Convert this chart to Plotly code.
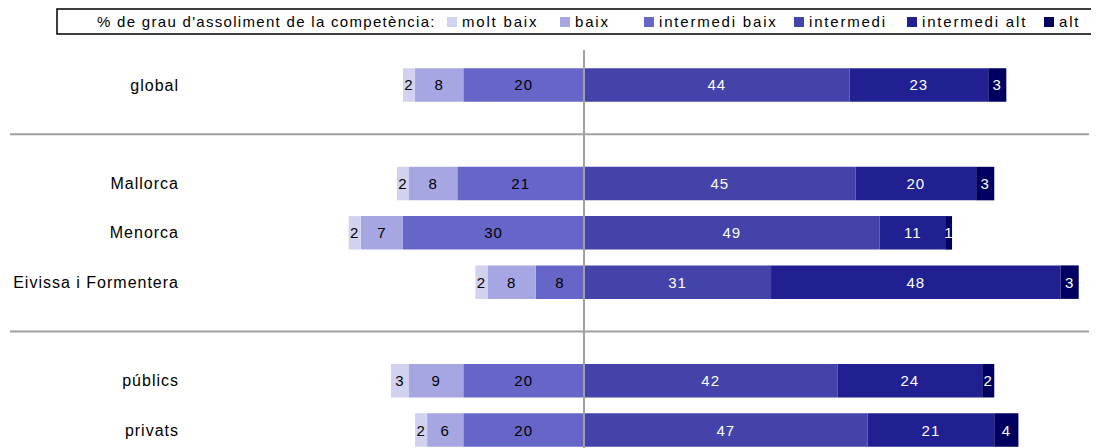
import plotly.graph_objects as go

categories = ["global", "Mallorca", "Menorca", "Eivissa i Formentera", "públics", "privats"]
positions = [0, 2, 3, 4, 6, 7]

levels = ["molt baix", "baix", "intermedi baix", "intermedi", "intermedi alt", "alt"]
molt_baix = [2, 2, 2, 2, 3, 2]
baix = [8, 8, 7, 8, 9, 6]
intermedi_baix = [20, 21, 30, 8, 20, 20]
intermedi = [44, 45, 49, 31, 42, 47]
intermedi_alt = [23, 20, 11, 48, 24, 21]
alt = [3, 3, 1, 3, 2, 4]

legend_title = "% de grau d'assoliment de la competència:"

colors = {
    "molt baix": "#D2D2F0",
    "baix": "#A6A6E2",
    "intermedi baix": "#6666C8",
    "intermedi": "#4343AA",
    "intermedi alt": "#202092",
    "alt": "#000060",
}

series = {
    "molt baix": molt_baix,
    "baix": baix,
    "intermedi baix": intermedi_baix,
    "intermedi": intermedi,
    "intermedi alt": intermedi_alt,
    "alt": alt,
}

FONT = "Liberation Sans, Arial, sans-serif"
# page body has an 8px margin, so the figure is drawn 8px in from the window
OFF = 8
W, H = 1099 - OFF, 448 - OFF
ML, MR, MT, MB = 190 - OFF, 10, 50 - OFF, 0


def spaced(t, ls):
    return f"<span style='letter-spacing:{ls}px'>{t}</span>"


def px_x(px):
    # px is a screenshot pixel
    return (px - OFF - ML) / (W - ML - MR)


def px_y(py):
    return (H - MB - (py - OFF)) / (H - MT - MB)


fig = go.Figure()
neg_order = ["intermedi baix", "baix", "molt baix"]
pos_order = ["intermedi", "intermedi alt", "alt"]
for name in neg_order + pos_order:
    vals = series[name]
    sign = -1 if name in neg_order else 1
    fig.add_trace(go.Bar(
        name=name,
        y=positions,
        x=[sign * v for v in vals],
        orientation="h",
        marker=dict(color=colors[name], line=dict(width=0)),
        text=[spaced(str(v), 1) for v in vals],
        textposition="inside",
        insidetextanchor="middle",
        textangle=0,
        textfont=dict(family=FONT, size=15,
                      color="black" if name in neg_order else "white"),
        width=0.68,
        showlegend=False,
        hoverinfo="skip",
    ))

fig.update_layout(
    barmode="relative",
    width=W, height=H,
    margin=dict(l=ML, r=MR, t=MT, b=MB, autoexpand=False),
    paper_bgcolor="white", plot_bgcolor="white",
    font=dict(family=FONT, size=15, color="black"),
    uniformtext=dict(minsize=15, mode="show"),
    showlegend=False,
    xaxis=dict(range=[-65.3, 83.7], showticklabels=False, showgrid=False,
               zeroline=False, showline=False, fixedrange=True),
    yaxis=dict(range=[7.365, -0.71], tickvals=positions,
               ticktext=[spaced(c, 1.0) for c in categories],
               showgrid=False, zeroline=False, showline=False, ticks="",
               automargin=False, ticklabelstandoff=10,
               tickfont=dict(family=FONT, size=16)),
)

# separator lines between groups and zero line
for ysep in [1, 5]:
    fig.add_shape(type="line", xref="paper", yref="y", x0=px_x(10), x1=px_x(1089),
                  y0=ysep, y1=ysep, line=dict(color="#A0A0A0", width=2))
fig.add_shape(type="line", xref="x", yref="paper", x0=0, x1=0, y0=0, y1=1,
              line=dict(color="#A0A0A0", width=2), layer="above")

# legend box
fig.add_shape(type="rect", xref="paper", yref="paper",
              x0=px_x(57), x1=px_x(1093), y0=px_y(34), y1=px_y(9),
              line=dict(color="black", width=1.5), fillcolor="white")
fig.add_annotation(xref="paper", yref="paper", x=px_x(95), y=px_y(22),
                   xanchor="left", yanchor="middle", showarrow=False,
                   text=spaced(legend_title, 1.3),
                   font=dict(family=FONT, size=15, color="black"))
legend_marker_px = [447, 560, 644, 794, 907, 1044]
for name, mx in zip(levels, legend_marker_px):
    fig.add_shape(type="rect", xref="paper", yref="paper",
                  x0=px_x(mx), x1=px_x(mx + 10), y0=px_y(27), y1=px_y(17),
                  line=dict(width=0), fillcolor=colors[name])
    fig.add_annotation(xref="paper", yref="paper", x=px_x(mx + 13), y=px_y(22),
                       xanchor="left", yanchor="middle", showarrow=False,
                       text=spaced(name, 1.8),
                       font=dict(family=FONT, size=15, color="black"))

fig.write_html("out.html")
